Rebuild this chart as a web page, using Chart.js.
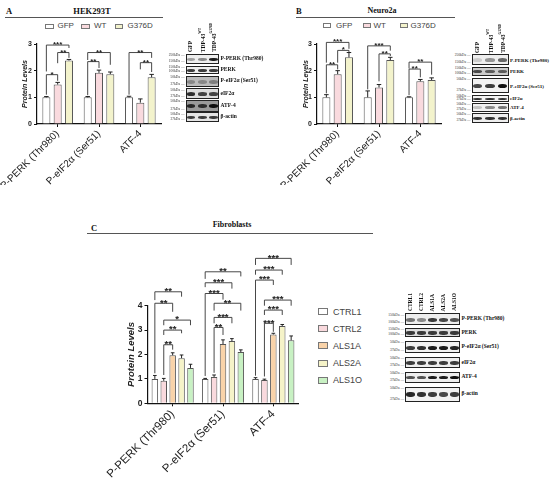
<!DOCTYPE html>
<html>
<head>
<meta charset="utf-8">
<script src="https://cdn.jsdelivr.net/npm/chart.js@4.4.1/dist/chart.umd.min.js"></script>
<style>
body { margin: 0; background: #fff; width: 550px; height: 481px; position: relative; overflow: hidden; font-family: "Liberation Sans", Arial, sans-serif; }
.abs { position: absolute; }
.panel { position: absolute; font-family: "Liberation Serif", "Times New Roman", serif; font-weight: bold; font-size: 8.5px; color: #111; white-space: nowrap; line-height: 1; }
.rule { position: absolute; height: 0; border-top: 1.3px solid #555; }
.leg { position: absolute; font-size: 8px; color: #444; white-space: nowrap; line-height: 1; }
.leg i { position: absolute; border: 1px solid #777; box-sizing: border-box; }
.box { position: absolute; border: 1px solid #222; box-sizing: border-box; overflow: hidden; }
.band { position: absolute; border-radius: 45%; filter: blur(0.5px); }
.rl { position: absolute; font-family: "Liberation Serif", serif; font-weight: bold; font-size: 5.5px; white-space: nowrap; color: #111; line-height: 1; }
.mw { position: absolute; font-family: "Liberation Serif", serif; font-size: 3.6px; white-space: nowrap; color: #333; line-height: 1; }
.cl { position: absolute; font-family: "Liberation Serif", serif; font-weight: bold; font-size: 5.5px; white-space: nowrap; color: #111; writing-mode: vertical-rl; transform: rotate(180deg); line-height: 1; }
.cl sup { font-size: 3.5px; }
</style>
</head>
<body>
<div class="abs" style="left:-20px;top:30px;width:187px;height:155px"><canvas id="chartA"></canvas></div>
<div class="abs" style="left:260px;top:30px;width:187px;height:155px"><canvas id="chartB"></canvas></div>
<div class="abs" style="left:80px;top:240px;width:225px;height:241px"><canvas id="chartC"></canvas></div>
<script>
// ---- data ----
const categories = ['P-PERK (Thr980)', 'P-eIF2α (Ser51)', 'ATF-4'];
const yTicksAB = [0, 1, 2, 3];
const yTicksC = [0, 1, 2, 3, 4];

// A: HEK293T
const hekSeries = ['GFP', 'WT', 'G376D'];
const hekGFP = [1.00, 1.00, 1.00];
const hekGFPErr = [0.03, 0.03, 0.04];
const hekWT = [1.48, 1.92, 0.80];
const hekWTErr = [0.08, 0.10, 0.14];
const hekG376D = [2.38, 1.87, 1.75];
const hekG376DErr = [0.04, 0.08, 0.11];
// [category, from series, to series, bracket y, left leg end, right leg end, label]
const hekBrackets = [
    [0, 0, 1, 1.85, 1.10, 1.62, '*'],
    [0, 1, 2, 2.68, 2.28, 2.48, '**'],
    [0, 0, 2, 2.96, 1.97, 2.85, '***'],
    [1, 0, 1, 2.34, 1.08, 2.10, '**'],
    [1, 0, 2, 2.68, 2.40, 2.22, '**'],
    [2, 0, 2, 2.68, 1.10, 2.48, '**'],
    [2, 1, 2, 2.30, 2.05, 1.95, '**'],
];

// B: Neuro2a
const neuroSeries = ['GFP', 'WT', 'G376D'];
const neuroGFP = [1.00, 1.00, 1.00];
const neuroGFPErr = [0.10, 0.24, 0.02];
const neuroWT = [1.87, 1.37, 1.60];
const neuroWTErr = [0.13, 0.11, 0.07];
const neuroG376D = [2.50, 2.40, 1.65];
const neuroG376DErr = [0.18, 0.10, 0.08];
const neuroBrackets = [
    [0, 0, 1, 2.22, 1.15, 2.05, '**'],
    [0, 1, 2, 2.76, 2.30, 2.70, '*'],
    [0, 0, 2, 3.06, 2.30, 2.82, '***'],
    [1, 0, 2, 2.93, 1.30, 2.75, '***'],
    [1, 1, 2, 2.63, 1.60, 2.55, '**'],
    [2, 0, 2, 2.32, 2.08, 1.85, '**'],
    [2, 0, 1, 2.06, 1.08, 1.75, '**'],
];

// C: Fibroblasts
const fibroSeries = ['CTRL1', 'CTRL2', 'ALS1A', 'ALS2A', 'ALS1O'];
const fibroCTRL1 = [1.00, 1.00, 1.00];
const fibroCTRL1Err = [0.14, 0.02, 0.05];
const fibroCTRL2 = [0.92, 1.08, 0.95];
const fibroCTRL2Err = [0.10, 0.08, 0.04];
const fibroALS1A = [1.97, 2.43, 2.82];
const fibroALS1AErr = [0.10, 0.17, 0.05];
const fibroALS2A = [1.85, 2.55, 3.17];
const fibroALS2AErr = [0.13, 0.10, 0.06];
const fibroALS1O = [1.45, 2.10, 2.58];
const fibroALS1OErr = [0.15, 0.09, 0.18];
const fibroBrackets = [
    [0, 0, 3, 4.57, 4.23, 4.37, '**'],
    [0, 0, 2, 4.10, 1.23, 3.75, '**'],
    [0, 1, 4, 3.41, 3.20, 3.20, '*'],
    [0, 1, 3, 3.00, 2.80, 2.87, '**'],
    [0, 1, 2, 2.40, 1.16, 2.20, '**'],
    [1, 0, 4, 5.39, 5.10, 5.20, '**'],
    [1, 0, 3, 4.94, 4.76, 4.70, '***'],
    [1, 0, 2, 4.50, 1.12, 4.25, '***'],
    [1, 1, 4, 4.10, 3.80, 3.80, '**'],
    [1, 1, 3, 3.52, 3.28, 3.28, '***'],
    [1, 1, 2, 3.11, 1.25, 2.80, '**'],
    [2, 0, 4, 5.94, 5.67, 5.67, '***'],
    [2, 0, 3, 5.46, 5.27, 5.27, '***'],
    [2, 0, 2, 5.05, 1.13, 4.85, '***'],
    [2, 1, 4, 4.23, 4.00, 4.00, '***'],
    [2, 1, 3, 3.82, 3.62, 3.62, '***'],
    [2, 1, 2, 3.28, 1.10, 2.93, '***'],
];

const colorsAB = ['#ffffff', '#f9dade', '#f3f3cc'];
const colorsC = ['#ffffff', '#f9d9dd', '#f9d3a9', '#f5f3c8', '#c8f1c3'];

Chart.defaults.font.family = '"Liberation Sans", Arial, sans-serif';

// error bars (upward only, with cap)
const errorBars = {
    id: 'errorBars',
    afterDatasetsDraw(chart) {
        const { ctx, scales: { y } } = chart;
        ctx.save();
        ctx.strokeStyle = '#222';
        ctx.lineWidth = 1;
        chart.data.datasets.forEach((ds, i) => {
            chart.getDatasetMeta(i).data.forEach((bar, j) => {
                const top = y.getPixelForValue(ds.data[j] + ds.err[j]);
                const cap = bar.width * 0.28;
                ctx.beginPath();
                ctx.moveTo(bar.x, bar.y);
                ctx.lineTo(bar.x, top);
                ctx.moveTo(bar.x - cap, top);
                ctx.lineTo(bar.x + cap, top);
                ctx.stroke();
            });
        });
        ctx.restore();
    }
};

// significance brackets
const bracketSets = { chartA: hekBrackets, chartB: neuroBrackets, chartC: fibroBrackets };
const starSize = { chartA: 8, chartB: 8, chartC: 9.5 };
const sigBrackets = {
    id: 'sigBrackets',
    afterDraw(chart) {
        const { ctx, scales: { y } } = chart;
        const id = chart.canvas.id;
        ctx.save();
        ctx.strokeStyle = '#333';
        ctx.lineWidth = 0.9;
        ctx.fillStyle = '#222';
        ctx.font = 'bold ' + starSize[id] + 'px "Liberation Sans", Arial';
        ctx.textAlign = 'center';
        ctx.textBaseline = 'alphabetic';
        bracketSets[id].forEach(([c, a, b, yl, la, lb, txt]) => {
            const xa = chart.getDatasetMeta(a).data[c].x;
            const xb = chart.getDatasetMeta(b).data[c].x;
            const py = y.getPixelForValue(yl);
            ctx.beginPath();
            ctx.moveTo(xa, y.getPixelForValue(la));
            ctx.lineTo(xa, py);
            ctx.lineTo(xb, py);
            ctx.lineTo(xb, y.getPixelForValue(lb));
            ctx.stroke();
            ctx.fillText(txt, (xa + xb) / 2, py + starSize[id] * 0.25);
        });
        ctx.restore();
    }
};

function makeChart(id, o) {
    const datasets = o.series.map((name, i) => ({
        label: name,
        data: o.values[i],
        err: o.errors[i],
        backgroundColor: o.colors[i],
        borderColor: '#555',
        borderWidth: 1,
        categoryPercentage: o.catPct,
        barPercentage: o.barPct,
    }));
    return new Chart(document.getElementById(id), {
        type: 'bar',
        data: { labels: categories, datasets },
        options: {
            responsive: true,
            maintainAspectRatio: false,
            animation: false,
            layout: { padding: o.padding },
            plugins: { legend: { display: false }, tooltip: { enabled: false } },
            scales: {
                x: {
                    grid: { offset: false, drawOnChartArea: false, color: '#111', tickLength: 3 },
                    border: { color: '#111', width: 1.2 },
                    ticks: { maxRotation: 45, minRotation: 45, autoSkip: false, color: '#222', padding: 1, font: { size: o.xFont } },
                    afterFit: s => { s.height = o.xHeight; },
                },
                y: {
                    min: 0,
                    max: o.yTicks[o.yTicks.length - 1],
                    afterBuildTicks: s => { s.ticks = o.yTicks.map(v => ({ value: v })); },
                    grid: { drawOnChartArea: false, color: '#111', tickLength: 3 },
                    border: { color: '#111', width: 1.2 },
                    ticks: { color: '#222', padding: 2, font: { size: o.yFont, weight: 'bold' } },
                    title: {
                        display: true, text: 'Protein Levels', color: '#222',
                        font: { size: o.titleFont, weight: 'bold', style: 'italic' },
                        padding: { top: o.titlePad, bottom: 0 },
                    },
                    afterFit: s => { s.width = o.yWidth; },
                },
            },
        },
        plugins: [errorBars, sigBrackets],
    });
}

makeChart('chartA', {
    series: hekSeries, values: [hekGFP, hekWT, hekG376D], errors: [hekGFPErr, hekWTErr, hekG376DErr],
    colors: colorsAB, catPct: 0.82, barPct: 0.71, yTicks: yTicksAB,
    padding: { top: 14, right: 6, left: 0, bottom: 0 }, xHeight: 61, yWidth: 57,
    xFont: 10, yFont: 7, titleFont: 7, titlePad: 40.8,
});
makeChart('chartB', {
    series: neuroSeries, values: [neuroGFP, neuroWT, neuroG376D], errors: [neuroGFPErr, neuroWTErr, neuroG376DErr],
    colors: colorsAB, catPct: 0.82, barPct: 0.71, yTicks: yTicksAB,
    padding: { top: 14, right: 6, left: 0, bottom: 0 }, xHeight: 61, yWidth: 57,
    xFont: 10, yFont: 7, titleFont: 7, titlePad: 41.8,
});
makeChart('chartC', {
    series: fibroSeries,
    values: [fibroCTRL1, fibroCTRL2, fibroALS1A, fibroALS2A, fibroALS1O],
    errors: [fibroCTRL1Err, fibroCTRL2Err, fibroALS1AErr, fibroALS2AErr, fibroALS1OErr],
    colors: colorsC, catPct: 0.885, barPct: 0.73, yTicks: yTicksC,
    padding: { top: 65.7, right: 6.5, left: 0, bottom: 0 }, xHeight: 77.7, yWidth: 67.5,
    xFont: 11.5, yFont: 8.5, titleFont: 9.5, titlePad: 46,
});

// ---- headings, rules, legends (HTML) ----
function put(html, cls, x, y, align, style) {
    const d = document.createElement('div');
    d.className = cls;
    d.innerHTML = html;
    d.style.left = x + 'px';
    d.style.top = y + 'px';
    d.style.transform = align === 'center' ? 'translate(-50%,-50%)' : 'translate(0,-50%)';
    if (style) d.style.cssText += style;
    document.body.appendChild(d);
    return d;
}
function rule(x1, x2, y) {
    const d = document.createElement('div');
    d.className = 'rule';
    d.style.cssText = `left:${x1}px;top:${y}px;width:${x2 - x1}px`;
    document.body.appendChild(d);
}
put('A', 'panel', 6, 11, 'left');
put('HEK293T', 'panel', 92, 11, 'center');
rule(5, 163, 16.5);
put('B', 'panel', 296, 11, 'left');
put('Neuro2a', 'panel', 382, 11, 'center', 'font-size:8px');
rule(296, 455, 16.5);
put('C', 'panel', 91, 228, 'left');
put('Fibroblasts', 'panel', 232, 225, 'center', 'font-size:8px');
rule(87, 373, 232.5);

function legendItem(name, color, bx, tx, y, bw, bh, size) {
    const d = put(name, 'leg', tx, y, 'left', `font-size:${size}px`);
    const b = document.createElement('div');
    b.className = 'leg';
    b.innerHTML = '<i></i>';
    b.style.cssText = `left:${bx}px;top:${y - bh / 2}px`;
    const i = b.firstChild;
    i.style.cssText = `left:0;top:0;width:${bw}px;height:${bh}px;background:${color}`;
    document.body.appendChild(b);
}
const legA = [[45, 57.5], [81, 94], [114.5, 127.5]];
hekSeries.forEach((s, i) => legendItem(s, colorsAB[i], legA[i][0], legA[i][1], 26, 8.5, 5, 8));
const legB = [[322.5, 336], [362.5, 373.5], [399.5, 410.5]];
neuroSeries.forEach((s, i) => legendItem(s, colorsAB[i], legB[i][0], legB[i][1], 25.5, 8, 5, 8));
fibroSeries.forEach((s, i) => legendItem(s, colorsC[i], 318, 333, 311.7 + i * 17.1, 10, 7, 9));

// ---- western blot panels (illustrative boxes with bands) ----
function blot(x, w, colBottom, cols, rows, labelSize) {
    const n = cols.length;
    const lw = w / n;
    cols.forEach((c, k) => {
        const d = document.createElement('div');
        d.className = 'cl';
        d.innerHTML = c;
        d.style.left = (x + lw * (k + 0.5) - 3) + 'px';
        d.style.bottom = (481 - colBottom) + 'px';
        document.body.appendChild(d);
    });
    rows.forEach(([y0, y1, label, ints, bg, mws]) => {
        const h = y1 - y0;
        const b = document.createElement('div');
        b.className = 'box';
        b.style.cssText = `left:${x}px;top:${y0}px;width:${w}px;height:${h}px;background:${bg}`;
        ints.forEach((v, k) => {
            const band = document.createElement('div');
            band.className = 'band';
            const bwid = lw * 0.78, bh = Math.max(2.2, h * 0.32);
            band.style.cssText = `left:${lw * (k + 0.5) - bwid / 2 - 1}px;top:${h / 2 - bh / 2 - 0.5}px;width:${bwid}px;height:${bh}px;background:rgba(15,15,15,${v})`;
            b.appendChild(band);
        });
        document.body.appendChild(b);
        put(label, 'rl', x + w + 1.5, (y0 + y1) / 2, 'left', `font-size:${labelSize}px`);
        mws.forEach((m, k) => {
            const yy = k === 0 ? y0 + 2.2 : y1 - 2.2;
            const t = put(m + ' —', 'mw', x - 1, yy, 'left');
            t.style.transform = 'translate(-100%,-50%)';
        });
    });
}
const kdaHi = ['250kDa', '150kDa'], kdaMid = ['150kDa', '100kDa'], kdaLo = ['50kDa', '37kDa'];
blot(185.5, 33.5, 52, ['GFP', 'TDP-43<sup>WT</sup>', 'TDP-43<sup>G376D</sup>'], [
    [54, 64, 'P-PERK (Thr980)', [0.35, 0.45, 0.95], '#eeeeee', kdaHi],
    [65.7, 74.5, 'PERK', [0.8, 0.8, 0.8], '#eeeeee', kdaMid],
    [75.5, 87, 'P-eIF2α (Ser51)', [0.3, 0.3, 0.35], '#bbbbbb', kdaLo],
    [88.3, 99, 'eIF2α', [0.85, 0.75, 0.75], '#dddddd', kdaLo],
    [100, 111.7, 'ATF-4', [0.85, 0.8, 1], '#999999', kdaLo],
    [112.3, 122.3, 'β-actin', [0.8, 0.8, 0.8], '#e4e4e4', kdaLo],
], 5.5);
blot(471.5, 37, 53, ['GFP', 'TDP-43<sup>WT</sup>', 'TDP-43<sup>G376D</sup>'], [
    [54, 65, 'P-PERK (Thr980)', [0.15, 0.4, 0.6], '#eeeeee', kdaHi],
    [66.7, 76, 'PERK', [0.7, 0.6, 0.6], '#cccccc', kdaMid],
    [78, 93, 'P-eIF2α (Ser51)', [0.75, 0.8, 1], '#f2f2f2', kdaLo],
    [95, 101.7, 'eIF2α', [0.85, 0.85, 0.85], '#f2f2f2', kdaLo],
    [103, 111.7, 'ATF-4', [0.2, 0.45, 0.55], '#f2f2f2', kdaLo],
    [113, 123, 'β-actin', [0.85, 0.85, 0.85], '#eeeeee', kdaLo],
], 5);
blot(405, 55, 311, fibroSeries, [
    [313.3, 325, 'P-PERK (Thr980)', [0.55, 0.45, 0.8, 0.75, 0.7], '#eeeeee', kdaMid],
    [327.7, 337.3, 'PERK', [0.8, 0.8, 0.8, 0.8, 0.8], '#dddddd', kdaMid],
    [341, 353.3, 'P-eIF2α (Ser51)', [0.8, 0.85, 0.95, 0.95, 0.9], '#f2f2f2', kdaLo],
    [356.7, 368.3, 'eIF2α', [0.8, 0.8, 0.8, 0.8, 0.8], '#eeeeee', kdaLo],
    [371.7, 382.7, 'ATF-4', [0.7, 0.7, 0.95, 0.95, 1], '#eeeeee', kdaLo],
    [386.7, 401.7, 'β-actin', [0.9, 0.85, 0.8, 0.75, 0.8], '#f2f2f2', kdaLo],
], 5.5);
</script>
</body>
</html>
